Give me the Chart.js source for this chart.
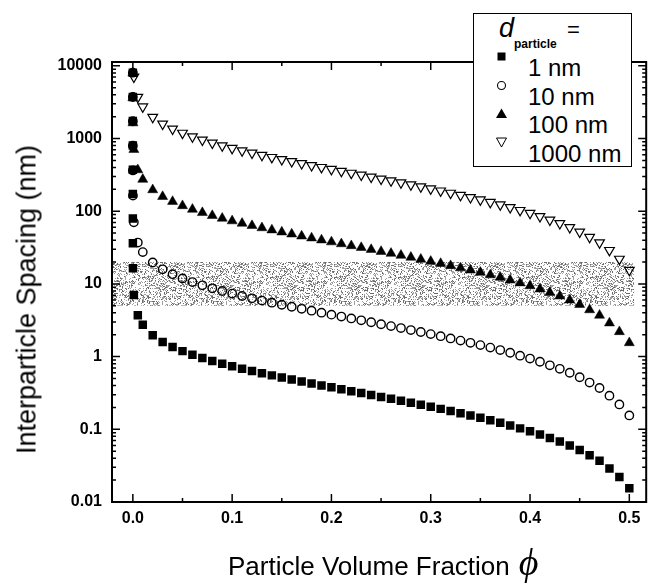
<!DOCTYPE html>
<html>
<head>
<meta charset="utf-8">
<script src="https://cdn.jsdelivr.net/npm/chart.js@4.4.1/dist/chart.umd.min.js"></script>
<style>
  body { margin: 0; background: #fff; }
  #wrap { position: relative; width: 653px; height: 584px; font-family: "Liberation Sans", Arial, sans-serif; color: #000; }
  #ytitle { position: absolute; left: -173px; top: 286px; width: 400px; height: 27px; line-height: 27px; font-size: 27px;
            text-align: center; white-space: nowrap; transform: rotate(-90deg); }
  #xtitle { position: absolute; left: 228px; top: 549px; font-size: 26px; line-height: 26px; white-space: nowrap; }
  #xtitle .phi { font-family: "Liberation Serif", serif; font-style: italic; font-size: 38px; margin-left: 9px; }
  #legend { position: absolute; left: 473px; top: 13px; width: 159px; height: 154px; box-sizing: border-box;
            border: 1.5px solid #000; background: #fff; }
  #legend span, #legend svg { position: absolute; white-space: nowrap; line-height: 1; }
  .row { font-size: 24px; left: 54px; }
</style>
</head>
<body>
<div id="wrap">
  <canvas id="chart" width="653" height="584"></canvas>
  <div id="ytitle">Interparticle Spacing (nm)</div>
  <div id="xtitle">Particle Volume Fraction<span class="phi">ϕ</span></div>
  <div id="legend">
    <span style="left:25px; top:1px; font-size:27px; font-style:italic;">d</span>
    <span style="left:40px; top:24px; font-size:12px; font-weight:bold;">particle</span>
    <span style="left:93px; top:5px; font-size:22px;">=</span>
    <svg style="left:22px; top:37px" width="11" height="11"><rect x="1.5" y="1.5" width="8" height="8" fill="#000"/></svg>
    <span class="row" style="top:42px">1 nm</span>
    <svg style="left:22px; top:66px" width="11" height="11"><circle cx="5.5" cy="5.5" r="4" fill="none" stroke="#000" stroke-width="1.1"/></svg>
    <span class="row" style="top:71px">10 nm</span>
    <svg style="left:21px; top:93px" width="13" height="13"><polygon points="6.5,1.5 12,11 1,11" fill="#000"/></svg>
    <span class="row" style="top:99px">100 nm</span>
    <svg style="left:21px; top:122px" width="13" height="13"><polygon points="1.5,2 11.5,2 6.5,11" fill="none" stroke="#000" stroke-width="1"/></svg>
    <span class="row" style="top:128px">1000 nm</span>
  </div>
</div>
<script>
// particle volume fraction (the first ten points sit at phi ~ 0)
const phi = [1e-12, 1e-11, 1e-10, 1e-9, 1e-8, 1e-7, 1e-6, 1e-5, 1e-4, 1e-3, 0.005,
  0.01, 0.02, 0.03, 0.04, 0.05, 0.06, 0.07, 0.08, 0.09, 0.10,
  0.11, 0.12, 0.13, 0.14, 0.15, 0.16, 0.17, 0.18, 0.19, 0.20,
  0.21, 0.22, 0.23, 0.24, 0.25, 0.26, 0.27, 0.28, 0.29, 0.30,
  0.31, 0.32, 0.33, 0.34, 0.35, 0.36, 0.37, 0.38, 0.39, 0.40,
  0.41, 0.42, 0.43, 0.44, 0.45, 0.46, 0.47, 0.48, 0.49, 0.50];

// interparticle spacing (nm), null = off the top of the plot
const spacing1nm = [8060, 3740, 1740, 805, 373, 173, 79.6, 36.4, 16.4, 7.06, 3.71,
  2.74, 1.97, 1.59, 1.36, 1.19, 1.06, 0.956, 0.871, 0.799, 0.736,
  0.682, 0.634, 0.591, 0.552, 0.517, 0.485, 0.455, 0.428, 0.402, 0.378,
  0.356, 0.335, 0.316, 0.297, 0.279, 0.263, 0.247, 0.232, 0.218, 0.204,
  0.191, 0.178, 0.166, 0.155, 0.144, 0.133, 0.123, 0.113, 0.103, 0.094,
  0.085, 0.076, 0.068, 0.060, 0.052, 0.044, 0.037, 0.029, 0.022, 0.0155];
const spacing10nm = [null, null, null, 8050, 3730, 1730, 796, 364, 164, 70.6, 37.1,
  27.4, 19.7, 15.9, 13.6, 11.9, 10.6, 9.56, 8.71, 7.99, 7.36,
  6.82, 6.34, 5.91, 5.52, 5.17, 4.85, 4.55, 4.28, 4.02, 3.78,
  3.56, 3.35, 3.16, 2.97, 2.79, 2.63, 2.47, 2.32, 2.18, 2.04,
  1.91, 1.78, 1.66, 1.55, 1.44, 1.33, 1.23, 1.13, 1.03, 0.94,
  0.85, 0.76, 0.68, 0.60, 0.52, 0.44, 0.37, 0.29, 0.22, 0.155];
const spacing100nm = [null, null, null, null, null, null, 7960, 3640, 1640, 706, 371,
  274, 197, 159, 136, 119, 106, 95.6, 87.1, 79.9, 73.6,
  68.2, 63.4, 59.1, 55.2, 51.7, 48.5, 45.5, 42.8, 40.2, 37.8,
  35.6, 33.5, 31.6, 29.7, 27.9, 26.3, 24.7, 23.2, 21.8, 20.4,
  19.1, 17.8, 16.6, 15.5, 14.4, 13.3, 12.3, 11.3, 10.3, 9.4,
  8.5, 7.6, 6.8, 6.0, 5.2, 4.4, 3.7, 2.9, 2.2, 1.55];
const spacing1000nm = [null, null, null, null, null, null, null, null, null, 7060, 3710,
  2740, 1970, 1590, 1360, 1190, 1060, 956, 871, 799, 736,
  682, 634, 591, 552, 517, 485, 455, 428, 402, 378,
  356, 335, 316, 297, 279, 263, 247, 232, 218, 204,
  191, 178, 166, 155, 144, 133, 123, 113, 103, 94,
  85, 76, 68, 60, 52, 44, 37, 29, 22, 15.5];

// shaded 5-20 nm band
const bandX = [-0.021, 0.505];
const bandTop = [20, 20];
const bandBottom = [5, 5];

const xTicks = [0, 0.1, 0.2, 0.3, 0.4, 0.5];
const xTickLabels = ['0.0', '0.1', '0.2', '0.3', '0.4', '0.5'];
const yTicks = [0.01, 0.1, 1, 10, 100, 1000, 10000];
const yTickLabels = ['0.01', '0.1', '1', '10', '100', '1000', '10000'];

const FONT = '"Liberation Sans", Arial, sans-serif';
Chart.defaults.font.family = FONT;
Chart.defaults.color = '#000';

function pts(ys) {
  return phi.map((x, i) => ({ x, y: ys[i] })).filter(p => p.y !== null);
}

const canvas = document.getElementById('chart');
const ctx = canvas.getContext('2d');

// grainy stipple texture for the band (hashed pixel mask, no diagonal pattern)
const tile = document.createElement('canvas');
tile.width = 64; tile.height = 48;
const tg = tile.getContext('2d');
for (let ty = 0; ty < tile.height; ty++) {
  for (let tx = 0; tx < tile.width; tx++) {
    let n = Math.imul(tx, 374761393) + Math.imul(ty, 668265263);
    n = Math.imul(n ^ (n >>> 13), 1274126177);
    n = (n ^ (n >>> 16)) >>> 0;
    const h = n % 100;
    if (h < 34) { tg.fillStyle = h < 14 ? '#6a6a6a' : '#a0a0a0'; tg.fillRect(tx, ty, 1, 1); }
  }
}
const stipple = ctx.createPattern(tile, 'repeat');

// box frame + inward ticks on all four sides
const frameTicks = {
  id: 'frameTicks',
  afterDatasetsDraw(chart) {
    const { ctx, chartArea: a, scales: { x, y } } = chart;
    ctx.save();
    ctx.strokeStyle = '#000';
    ctx.lineWidth = 1.5;
    ctx.beginPath();
    const xMinor = xTicks.slice(0, -1).map(v => v + 0.05);
    const xt = (v, len) => {
      const px = x.getPixelForValue(v);
      ctx.moveTo(px, a.bottom); ctx.lineTo(px, a.bottom - len);
      ctx.moveTo(px, a.top); ctx.lineTo(px, a.top + len);
    };
    xTicks.forEach(v => xt(v, 8));
    xMinor.forEach(v => xt(v, 4));
    const yt = (v, len) => {
      const py = y.getPixelForValue(v);
      ctx.moveTo(a.left, py); ctx.lineTo(a.left + len, py);
      ctx.moveTo(a.right, py); ctx.lineTo(a.right - len, py);
    };
    yTicks.forEach(v => yt(v, 8));
    yTicks.forEach(v => { for (let k = 2; k <= 9; k++) if (v * k < y.max) yt(v * k, 4); });
    ctx.stroke();
    ctx.lineWidth = 2;
    ctx.strokeRect(a.left, a.top, a.right - a.left, a.bottom - a.top);
    ctx.restore();
  }
};

new Chart(ctx, {
  type: 'scatter',
  data: {
    datasets: [
      { label: '1 nm', data: pts(spacing1nm), pointStyle: 'rect', pointRadius: 6, pointHoverRadius: 6,
        pointBackgroundColor: '#000', pointBorderColor: '#000', pointBorderWidth: 0 },
      { label: '10 nm', data: pts(spacing10nm), pointStyle: 'circle', pointRadius: 4.2, pointHoverRadius: 4.2,
        pointBackgroundColor: 'rgba(0,0,0,0)', pointBorderColor: '#000', pointBorderWidth: 1.4 },
      { label: '100 nm', data: pts(spacing100nm), pointStyle: 'triangle', pointRadius: 5.8, pointHoverRadius: 5.8,
        pointBackgroundColor: '#000', pointBorderColor: '#000', pointBorderWidth: 0.5 },
      { label: '1000 nm', data: pts(spacing1000nm), pointStyle: 'triangle', pointRotation: 180, pointRadius: 5.6,
        pointHoverRadius: 5.6, pointBackgroundColor: 'rgba(0,0,0,0)', pointBorderColor: '#000', pointBorderWidth: 1.2 },
      { type: 'line', label: 'band', data: bandX.map((x, i) => ({ x, y: bandTop[i] })), fill: '+1',
        backgroundColor: stipple, borderWidth: 0, pointRadius: 0, order: 10 },
      { type: 'line', label: 'band low', data: bandX.map((x, i) => ({ x, y: bandBottom[i] })), fill: false,
        borderWidth: 0, pointRadius: 0, order: 10 }
    ]
  },
  options: {
    responsive: false,
    animation: false,
    devicePixelRatio: 1,
    events: [],
    layout: { padding: { top: 62, right: 3, left: 0, bottom: 0 } },
    plugins: { legend: { display: false }, tooltip: { enabled: false } },
    scales: {
      x: {
        type: 'linear', min: -0.021, max: 0.517,
        afterBuildTicks: s => { s.ticks = xTicks.map(v => ({ value: v })); },
        afterFit: s => { s.height = 82; },
        ticks: { callback: (v, i) => xTickLabels[i], font: { size: 16, weight: 'bold' }, padding: 7,
                 maxRotation: 0, autoSkip: false },
        grid: { display: false, drawTicks: false },
        border: { display: false }
      },
      y: {
        type: 'logarithmic', min: 0.01, max: 11300,
        afterBuildTicks: s => { s.ticks = yTicks.map(v => ({ value: v })); },
        afterFit: s => { s.width = 112; },
        ticks: { callback: (v, i) => yTickLabels[i], font: { size: 16, weight: 'bold' }, padding: 10, autoSkip: false },
        grid: { display: false, drawTicks: false },
        border: { display: false }
      }
    }
  },
  plugins: [frameTicks]
});
</script>
</body>
</html>
